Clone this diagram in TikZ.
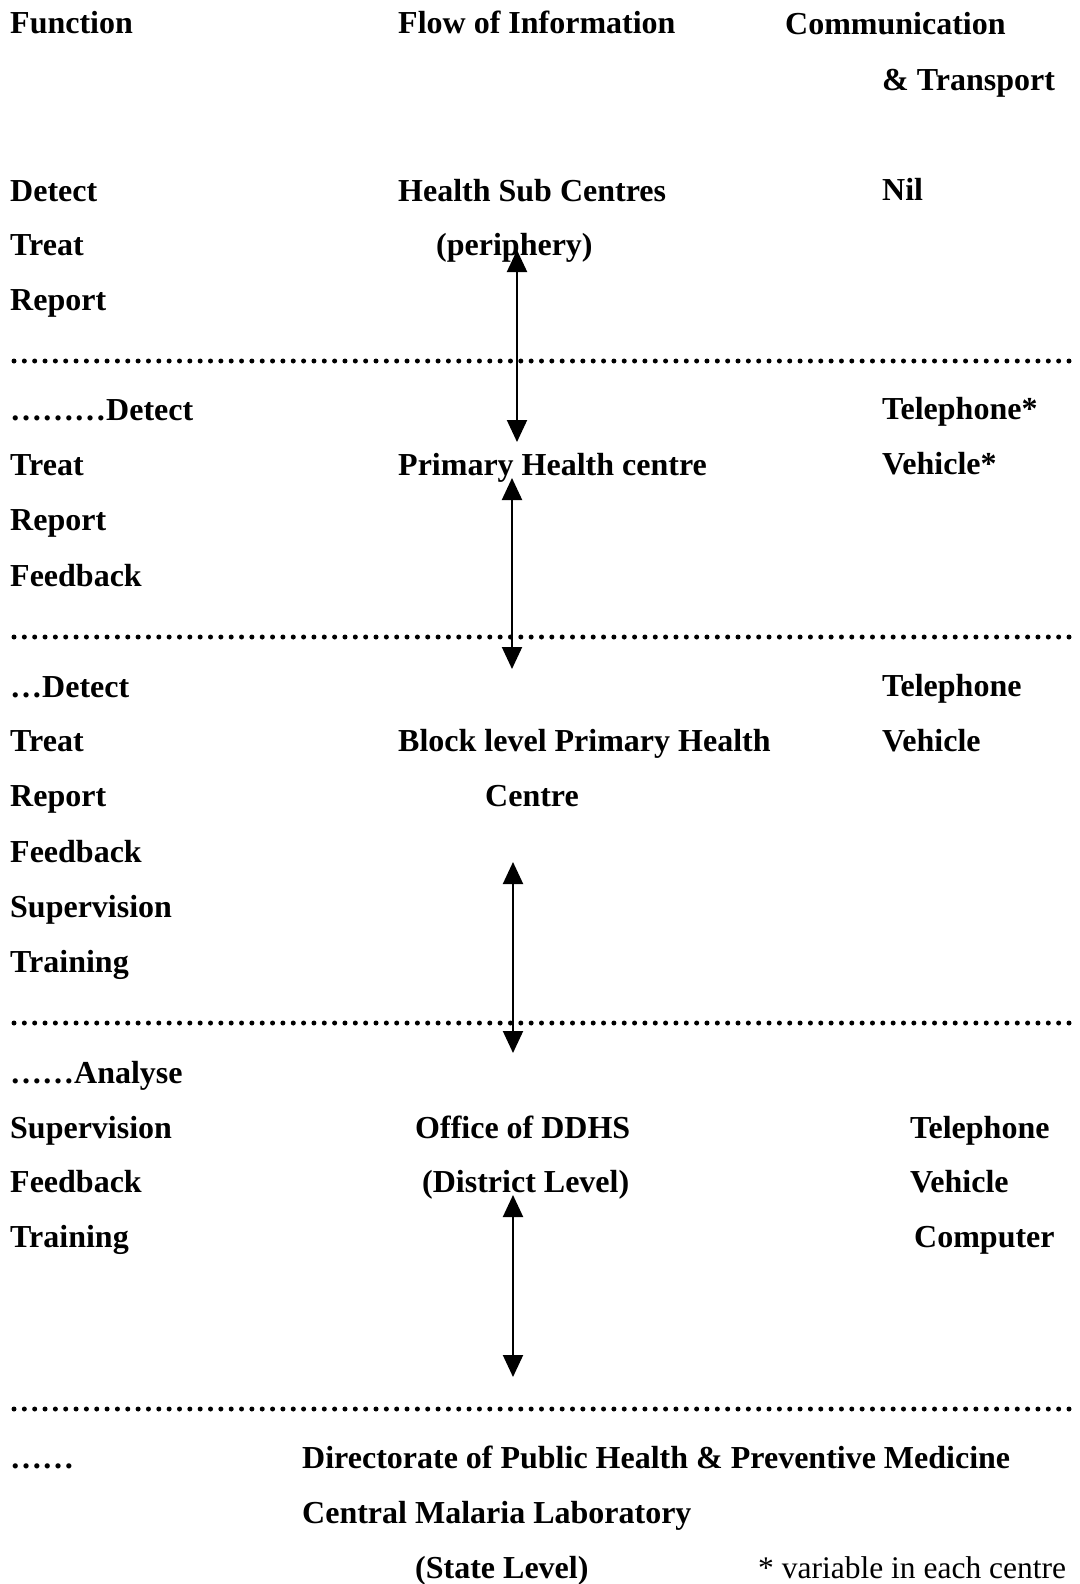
\documentclass[tikz,border=0pt]{standalone}
\usepackage{fontspec}
\setmainfont{Liberation Serif}
\usetikzlibrary{arrows.meta}
\tikzset{
  lbl/.style={anchor=base west, inner sep=0pt, font=\fontsize{32}{36}\selectfont\bfseries},
  note/.style={anchor=base west, inner sep=0pt, font=\fontsize{31.5}{36}\selectfont},
  sep/.style={line width=5pt, line cap=round, dash pattern=on 0pt off 10.343pt},
  flow/.style={line width=2pt, {Triangle[width=20pt,length=22pt]}-{Triangle[width=20pt,length=22pt]}}
}
\begin{document}
\begin{tikzpicture}[x=1pt,y=1pt]
\useasboundingbox (0,0) rectangle (1079,-1584);
% headers
\node[lbl] (hf) at (10,-34) {Function};
\node[lbl] (hi) at (398,-34) {Flow of Information};
\node[lbl] (hc) at (785,-35) {Communication};
\node[lbl] (ht) at (882,-91) {\& Transport};
% level 1
\node[lbl] (a1) at (10,-201) {Detect};
\node[lbl] (a2) at (10,-255) {Treat};
\node[lbl] (a3) at (10,-310) {Report};
\node[lbl] (hsc) at (398,-201) {Health Sub Centres};
\node[lbl] (per) at (436,-255) {(periphery)};
\node[lbl] (nil) at (882,-200) {Nil};
% level 2
\node[lbl] (b1) at (10,-420) {………Detect};
\node[lbl] (b2) at (10,-475) {Treat};
\node[lbl] (b3) at (10,-530) {Report};
\node[lbl] (b4) at (10,-586) {Feedback};
\node[lbl] (phc) at (398,-475) {Primary Health centre};
\node[lbl] (bt) at (882,-419) {Telephone*};
\node[lbl] (bv) at (882,-474) {Vehicle*};
% level 3
\node[lbl] (c1) at (10,-697) {…Detect};
\node[lbl] (c2) at (10,-751) {Treat};
\node[lbl] (c3) at (10,-806) {Report};
\node[lbl] (c4) at (10,-862) {Feedback};
\node[lbl] (c5) at (10,-917) {Supervision};
\node[lbl] (c6) at (10,-972) {Training};
\node[lbl] (blk) at (398,-751) {Block level Primary Health};
\node[lbl] (blk2) at (485,-806) {Centre};
\node[lbl] (ct) at (882,-696) {Telephone};
\node[lbl] (cv) at (882,-751) {Vehicle};
% level 4
\node[lbl] (d1) at (10,-1083) {……Analyse};
\node[lbl] (d2) at (10,-1138) {Supervision};
\node[lbl] (d3) at (10,-1192) {Feedback};
\node[lbl] (d4) at (10,-1247) {Training};
\node[lbl] (dd) at (415,-1138) {Office of DDHS};
\node[lbl] (dl) at (422,-1192) {(District Level)};
\node[lbl] (dt) at (910,-1138) {Telephone};
\node[lbl] (dv) at (910,-1192) {Vehicle};
\node[lbl] (dc) at (914,-1247) {Computer};
% level 5
\node[lbl] (e1) at (10,-1468) {……};
\node[lbl] (dir) at (302,-1468) {Directorate of Public Health \& Preventive Medicine};
\node[lbl] (cml) at (302,-1523) {Central Malaria Laboratory};
\node[lbl] (st) at (415,-1578) {(State Level)};
\node[note] (fn) at (758,-1578) {* variable in each centre};
% separators
\coordinate (s1l) at (14,-361); \coordinate (s1r) at (1069,-361);
\coordinate (s2l) at (14,-637); \coordinate (s2r) at (1069,-637);
\coordinate (s3l) at (14,-1023); \coordinate (s3r) at (1069,-1023);
\coordinate (s4l) at (14,-1409); \coordinate (s4r) at (1069,-1409);
\draw[sep] (s1l) -- (s1r);
\draw[sep] (s2l) -- (s2r);
\draw[sep] (s3l) -- (s3r);
\draw[sep] (s4l) -- (s4r);
% flow arrows
\coordinate (f1a) at (517,-250); \coordinate (f1b) at (517,-442);
\coordinate (f2a) at (512,-478); \coordinate (f2b) at (512,-669);
\coordinate (f3a) at (513,-862); \coordinate (f3b) at (513,-1053);
\coordinate (f4a) at (513,-1195); \coordinate (f4b) at (513,-1377);
\draw[flow] (f1a) -- (f1b);
\draw[flow] (f2a) -- (f2b);
\draw[flow] (f3a) -- (f3b);
\draw[flow] (f4a) -- (f4b);
\end{tikzpicture}
\end{document}
